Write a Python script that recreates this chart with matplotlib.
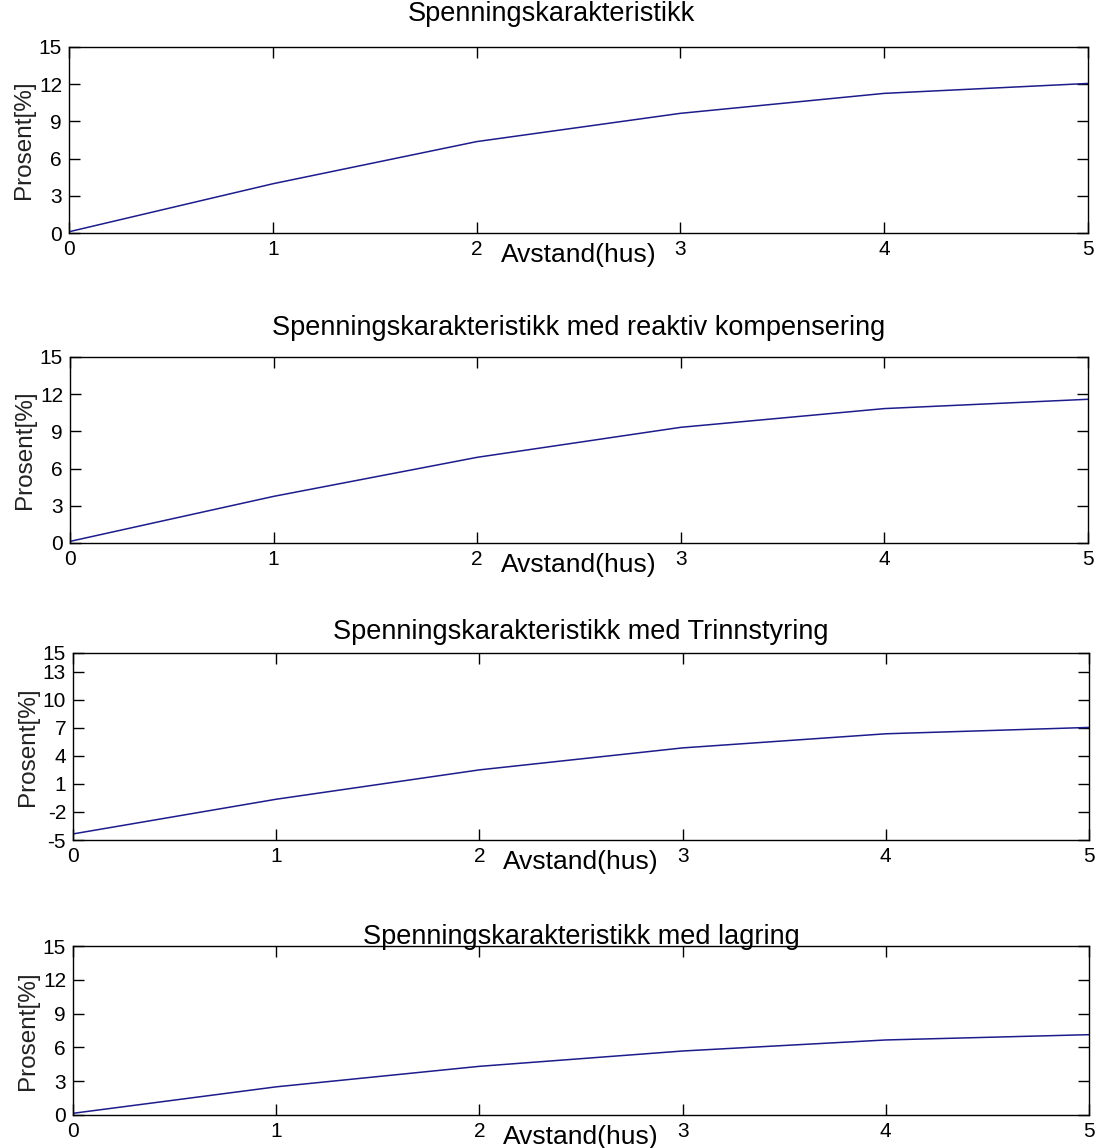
import matplotlib.pyplot as plt

plt.rcParams['font.family'] = ['Liberation Sans', 'DejaVu Sans']
plt.rcParams['axes.unicode_minus'] = False

hus = [0, 1, 2, 3, 4, 5]

spenning = [0.1, 3.97, 7.37, 9.65, 11.26, 12.06]
reaktiv = [0.13, 3.76, 6.91, 9.33, 10.84, 11.59]
trinn = [-4.35, -0.64, 2.5, 4.85, 6.36, 7.04]
lagring = [0.15, 2.5, 4.32, 5.68, 6.66, 7.13]

titles = [
    "Spenningskarakteristikk",
    "Spenningskarakteristikk med reaktiv kompensering",
    "Spenningskarakteristikk med Trinnstyring",
    "Spenningskarakteristikk med lagring",
]
series = [spenning, reaktiv, trinn, lagring]
yticks_std = [0, 3, 6, 9, 12, 15]
yticks_trinn = [-5, -2, 1, 4, 7, 10, 13, 15]
yticks = [yticks_std, yticks_std, yticks_trinn, yticks_std]
ylims = [(0, 15), (0, 15), (-5, 15), (0, 15)]

W, H = 1096, 1148
# pixel boxes: left, top, right, bottom
boxes = [(69, 47, 1088, 233), (70, 357, 1088, 543), (73, 653, 1089, 840), (73, 946, 1089, 1115)]
title_pad = [18.5, 15.5, 10, 1.7]
title_x = [0.473, 0.5, 0.5, 0.5]

fig = plt.figure(figsize=(W / 100, H / 100), dpi=100)

for i in range(4):
    l, t, r, b = boxes[i]
    ax = fig.add_axes([l / W, 1 - b / H, (r - l) / W, (b - t) / H])
    ax.plot(hus, series[i], color='#1c1c8c', lw=1.1)
    ax.set_xlim(0, 5)
    ax.set_ylim(*ylims[i])
    ax.set_xticks(hus)
    ax.set_yticks(yticks[i])
    ax.tick_params(direction='in', top=True, right=True, length=8, width=1,
                   labelsize=15, colors='black', pad=5)
    ax.tick_params(axis='y', pad=5)
    for s in ax.spines.values():
        s.set_linewidth(1.0)
    ax.set_title(titles[i], fontsize=19.5, pad=title_pad[i], x=title_x[i])
    ax.set_ylabel("Prosent[%]", fontsize=17.5, labelpad=3, color='#222222')
    ax.set_xlabel("Avstand(hus)", fontsize=19, labelpad=-11.5)

fig.savefig("out.png", dpi=100)
